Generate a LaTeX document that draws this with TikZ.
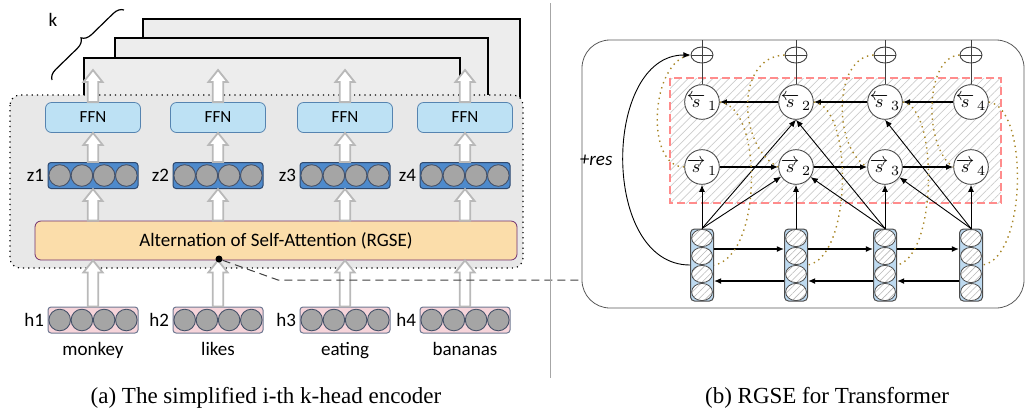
\documentclass[tikz,border=0pt]{standalone}
\usepackage{fontspec}
\setmainfont{Liberation Serif}
\newfontfamily\calibri{Carlito}
\usepackage{amsmath}
\usetikzlibrary{arrows.meta,calc,positioning,patterns.meta,shapes.geometric,decorations.pathreplacing}

\definecolor{ffnfill}{RGB}{189,225,244}
\definecolor{ffnline}{RGB}{86,132,176}
\definecolor{zfill}{RGB}{78,138,204}
\definecolor{zline}{RGB}{45,72,110}
\definecolor{hfill}{RGB}{246,212,218}
\definecolor{hline}{RGB}{110,120,145}
\definecolor{ballfill}{RGB}{165,165,165}
\definecolor{ballline}{RGB}{70,82,105}
\definecolor{rgsefill}{RGB}{251,221,170}
\definecolor{rgseline}{RGB}{112,48,112}
\definecolor{colfill}{RGB}{190,218,240}
\definecolor{dotc}{RGB}{168,134,38}

% hollow block arrow going up from #1 to the height of #2
\newcommand\hollowarr[2]{%
  \draw[hollow] let \p1=(#1), \p2=(#2) in
    (\x1-2.6pt,\y1) -- (\x1-2.6pt,\y2-6pt) -- (\x1-4.8pt,\y2-6pt) -- (\x1,\y2)
    -- (\x1+4.8pt,\y2-6pt) -- (\x1+2.6pt,\y2-6pt) -- (\x1+2.6pt,\y1) -- cycle;}
% row of four units
\newcommand\vecrow[5]{%
  \node[vecbox,fill=#4,draw=#5] (#1) at (#2,#3) {};
  \foreach \k in {-1.5,-0.5,0.5,1.5}
    \draw[ball] ($(#1)+(\k*22.2,0)$) circle [radius=5.4pt];}

\begin{document}
\begin{tikzpicture}[x=0.5pt,y=-0.5pt,
    hollow/.style={draw=gray!55,fill=white,line width=0.9pt},
    ffnbox/.style={draw=ffnline,fill=ffnfill,rounded corners=3pt,minimum width=47.5pt,minimum height=15pt,inner sep=0pt,font=\calibri\fontsize{8.5}{10}\selectfont},
    vecbox/.style={rounded corners=1.5pt,minimum width=45pt,minimum height=13pt,inner sep=0pt,line width=0.5pt},
    ball/.style={draw=ballline,fill=ballfill,line width=0.45pt},
    lab/.style={font=\calibri\fontsize{9.5}{11}\selectfont,inner sep=0pt},
    word/.style={lab,text height=7pt,text depth=2pt},
    snode/.style={circle,draw=black!70,fill=white,minimum size=17pt,inner sep=0pt,line width=0.45pt,font=\fontsize{9.5}{11}\selectfont},
    plusnode/.style={ellipse,draw=black!75,minimum width=11pt,minimum height=8pt,inner sep=0pt,line width=0.45pt},
    colbox/.style={draw=black!70,fill=colfill,rounded corners=2pt,minimum width=11.5pt,minimum height=36pt,inner sep=0pt,line width=0.5pt},
    celli/.style={draw=black!70,line width=0.4pt,preaction={fill=white},pattern={Lines[angle=45,distance=2.4pt,line width=0.3pt]},pattern color=gray!55},
    sarr/.style={-{Latex[length=3.6pt,width=3pt]},line width=0.45pt},
    harr/.style={sarr,line width=0.65pt},
    dotline/.style={dotc,dotted,line width=0.7pt}]
\useasboundingbox (0,0) rectangle (1027,414);

% (a) encoder
\foreach \l/\t/\r in {143/19/520,115/38/488,84/58/460}
  \draw[fill=gray!14,line width=0.6pt] (\l,\t) rectangle (\r,200);
\draw[decorate,decoration={brace,amplitude=5pt},line width=0.6pt] (52,80) -- (124,10);
\node[lab] (k) at (53,20) {k};
\draw[dotted,line width=0.6pt,fill=gray!18,rounded corners=5pt] (10,95) rectangle (523,268);

\node[draw=rgseline,fill=rgsefill,rounded corners=3pt,minimum width=241pt,minimum height=19.5pt,inner sep=0pt,
  font=\calibri\fontsize{9.5}{11}\selectfont] (rgse) at (276,240.5) {Alternation of Self-Attention (RGSE)};

\foreach \i/\x/\w in {1/93/monkey,2/218/likes,3/345/eating,4/465/bananas} {
  \node[ffnbox] (ffn\i) at (\x,117.5) {FFN};
  \vecrow{z\i}{\x}{175.5}{zfill}{zline}
  \vecrow{h\i}{\x}{320}{hfill}{hline}
  \node[lab,left=1.5pt of z\i] (zl\i) {z\i};
  \node[lab,left=1.5pt of h\i] (hl\i) {h\i};
  \node[word,below=4pt of h\i] (w\i) {\w};
  \coordinate (t\i) at (\x,70);
  \hollowarr{h\i.north}{h\i.north |- rgse.south}
  \hollowarr{z\i.south |- rgse.north}{z\i.south}
  \hollowarr{z\i.north}{ffn\i.south}
  \hollowarr{ffn\i.north}{t\i}
}

\node[circle,fill=black,inner sep=0pt,minimum size=3.5pt] (dot) at (219,259) {};
\coordinate (bend) at (278,280);
\coordinate (rin) at (582,280);
\draw[gray!50!black,dash pattern=on 4pt off 2.5pt,line width=0.5pt] (dot) -- (bend) -- (rin);
\draw[gray!70,line width=0.5pt] (550,3) -- (550,378);

% (b) RGSE
\coordinate (rtop) at (700,40);
\draw[gray!70!black,line width=0.4pt,rounded corners=14pt] (582,40) rectangle (1024,308);
\draw[red!45,dash pattern=on 4pt off 2pt,line width=0.6pt,
  pattern={Lines[angle=45,distance=2.9pt,line width=0.35pt]},pattern color=gray!40] (670,78) rectangle (1001,203);

\foreach \i/\x in {1/702,2/796,3/885,4/971} {
  \node[plusnode] (o\i) at (\x,55) {};
  \draw[line width=0.45pt,black!75] (o\i.north) -- (o\i.south) (o\i.west) -- (o\i.east);
  \node[snode] (sb\i) at (\x,102) {$\overleftarrow{s}_{\,\i}$};
  \node[snode] (sf\i) at (\x,167) {$\overrightarrow{s}_{\,\i}$};
  \node[colbox] (c\i) at (\x,265) {};
  \foreach \k in {-1.5,-0.5,0.5,1.5}
    \draw[celli] ($(c\i)+(0,\k*18)$) ellipse [x radius=5.2pt,y radius=4.3pt];
  \draw[line width=0.45pt,black!75] (o\i.north) -- (o\i |- rtop);
  \draw[line width=0.45pt,black!75] (o\i.south) -- (sb\i.north);
  \draw[sarr] (c\i.north) -- (sf\i);
}

\foreach \i/\j in {1/2,2/3,3/4} {
  \draw[harr] (sf\i) -- (sf\j);
  \draw[harr] (sb\j) -- (sb\i);
  \draw[harr] ([yshift=8pt]c\i.east) -- ([yshift=8pt]c\j.west);
  \draw[harr] ([yshift=-8pt]c\j.west) -- ([yshift=-8pt]c\i.east);
}
\draw[sarr] (c1.north) -- (sf2);
\draw[sarr] (c1.north) -- (sb2.south);
\draw[sarr] (c3.north) -- (sf2);
\draw[sarr] (c3.north) -- (sb2.south);
\draw[sarr] (c4.north) -- (sf3);
\draw[sarr] (c4.north) -- (sb3.south);

\draw[dotline] (sf1.west) .. controls +(-40,0) and +(-40,5) .. (o1.west);
\foreach \i/\a/\b in {2/50/40,3/40/35,4/35/30}
  \draw[dotline] (o\i.west) .. controls +(-\a,2) and +(-\b,-20) .. (sf\i.west);
\foreach \i/\a in {1/44,2/40,3/36,4/40}
  \draw[dotline] (sb\i.east) .. controls +(\a,5) and +(\a+4,-8) .. (c\i.east);

\draw[sarr] (c1.west) .. controls +(-90,0) and +(-88,0) ..
  node[pos=0.5,left=2pt,font=\calibri\itshape\fontsize{9.5}{11}\selectfont] (res) {+res} (o1.west);

% captions
\node[font=\fontsize{11.5}{13}\selectfont] (capa) at (266,398) {(a) The simplified i-th k-head encoder};
\node[font=\fontsize{11.5}{13}\selectfont] (capb) at (827,398) {(b) RGSE for Transformer};
\end{tikzpicture}
\end{document}
